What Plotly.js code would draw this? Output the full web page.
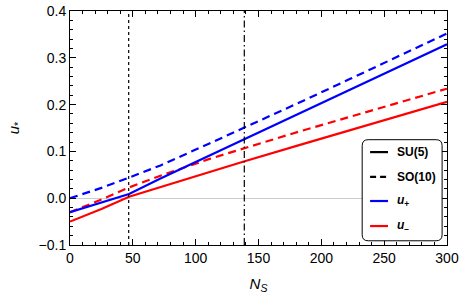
<!DOCTYPE html>
<html>
<head>
<meta charset="utf-8">
<script src="https://cdn.plot.ly/plotly-3.0.1.min.js"></script>
<style>html,body{margin:0;padding:0;background:#fff;}</style>
</head>
<body>
<div id="chart" style="width:463px;height:303px;"></div>
<script>
// N_S sample points
const nS = [0, 25, 47, 72, 111, 139, 183, 223, 260, 300];
// SU(5) u+ (blue solid)
const su5Plus  = [-0.030, -0.010, 0.009, 0.042, 0.091, 0.126, 0.182, 0.232, 0.279, 0.329];
// SU(5) u- (red solid)
const su5Minus = [-0.050, -0.023, 0.003, 0.024, 0.057, 0.079, 0.114, 0.145, 0.174, 0.206];
// SO(10) u+ (blue dashed)
const so10Plus  = [0.000, 0.022, 0.044, 0.070, 0.117, 0.151, 0.205, 0.255, 0.302, 0.352];
// SO(10) u- (red dashed)
const so10Minus = [-0.030, -0.003, 0.023, 0.048, 0.084, 0.107, 0.143, 0.174, 0.203, 0.234];
// vertical reference lines
const vDotted = 46.7;
const vDashDot = 138.7;
// legend labels and styles
const legendLabels = ['<b>SU(5)</b>', '<b>SO(10)</b>', '<b><i>u</i><sub>+</sub></b>', '<b><i>u</i><sub>−</sub></b>'];
const legendColors = ['black', 'black', '#0000ff', '#ff0000'];
const legendDashes = ['solid', '6px,4px', 'solid', 'solid'];

const BLUE = '#0000ff', RED = '#ff0000';
const DASH = '8px,5px';

const traces = [
  {x: nS, y: so10Plus, mode: 'lines', line: {color: BLUE, width: 2.2, dash: DASH}},
  {x: nS, y: so10Minus, mode: 'lines', line: {color: RED, width: 2.2, dash: DASH}},
  {x: nS, y: su5Plus, mode: 'lines', line: {color: BLUE, width: 2.2}},
  {x: nS, y: su5Minus, mode: 'lines', line: {color: RED, width: 2.2}}
];

const axisCommon = {
  showgrid: false,
  showline: true,
  linecolor: 'black',
  linewidth: 1,
  mirror: 'allticks',
  ticks: 'inside',
  ticklen: 6,
  tickwidth: 1,
  tickcolor: 'black',
  tickfont: {family: 'Liberation Sans, Arial, sans-serif', size: 14, color: 'black'}
};

// rounded legend box in paper coords (plot area 377 x 234 px)
const PW = 377, PH = 234;
const bx0 = 0.775, bx1 = 0.987, by0 = 0.018, by1 = 0.45;
const rx = 6/PW, ry = 6/PH;
const boxPath = `M ${bx0+rx} ${by1} L ${bx1-rx} ${by1} Q ${bx1} ${by1} ${bx1} ${by1-ry} L ${bx1} ${by0+ry} Q ${bx1} ${by0} ${bx1-rx} ${by0} L ${bx0+rx} ${by0} Q ${bx0} ${by0} ${bx0} ${by0+ry} L ${bx0} ${by1-ry} Q ${bx0} ${by1} ${bx0+rx} ${by1} Z`;

const rowY = [0.397, 0.291, 0.188, 0.081];
const sx0 = 0.796, sx1 = 0.8435, tx = 0.862;

const shapes = [
  {type: 'line', xref: 'x', yref: 'paper', x0: vDotted, x1: vDotted, y0: 0, y1: 1,
   line: {color: 'black', width: 1.2, dash: 'dot'}},
  {type: 'line', xref: 'x', yref: 'paper', x0: vDashDot, x1: vDashDot, y0: 0, y1: 1,
   line: {color: 'black', width: 1.2, dash: '7px,3px,1.5px,3px'}},
  {type: 'path', xref: 'paper', yref: 'paper', path: boxPath, layer: 'above',
   fillcolor: 'white', line: {color: 'black', width: 1}}
];
const annotations = [];
legendLabels.forEach((lab, i) => {
  shapes.push({type: 'line', xref: 'paper', yref: 'paper', layer: 'above',
    x0: sx0, x1: sx1, y0: rowY[i], y1: rowY[i],
    line: {color: legendColors[i], width: 2.2, dash: legendDashes[i]}});
  annotations.push({xref: 'paper', yref: 'paper', x: tx, y: rowY[i], xanchor: 'left', yanchor: 'middle',
    text: lab, showarrow: false,
    font: {family: 'Liberation Sans, Arial, sans-serif', size: 12, color: 'black'}});
});

const layout = {
  width: 463, height: 303,
  margin: {l: 70, r: 16, t: 11, b: 58},
  paper_bgcolor: 'white', plot_bgcolor: 'white',
  font: {family: 'Liberation Sans, Arial, sans-serif', color: 'black'},
  showlegend: false,
  xaxis: Object.assign({}, axisCommon, {
    range: [0, 300], dtick: 50, tick0: 0,
    zeroline: false,
    minor: {dtick: 10, ticks: 'inside', ticklen: 3, tickcolor: 'black', showgrid: false},
    title: {text: '<i>N</i><sub><i>S</i></sub>', font: {size: 15}, standoff: 13}
  }),
  yaxis: Object.assign({}, axisCommon, {
    range: [-0.1, 0.4], dtick: 0.1, tick0: 0, tickformat: '.1f',
    zeroline: true, zerolinecolor: '#cccccc', zerolinewidth: 1,
    minor: {dtick: 0.02, ticks: 'inside', ticklen: 3, tickcolor: 'black', showgrid: false},
    title: {text: '<i>u</i><sub>*</sub>', font: {size: 15}, standoff: 15}
  }),
  shapes: shapes,
  annotations: annotations
};

Plotly.newPlot('chart', traces, layout, {displayModeBar: false, staticPlot: true});
</script>
</body>
</html>
